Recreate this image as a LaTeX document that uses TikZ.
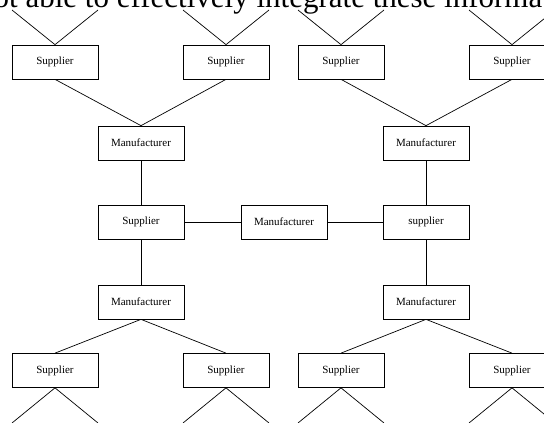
\documentclass[tikz,border=0pt]{standalone}
\usepackage{fontspec}
\setmainfont{Liberation Serif}
\begin{document}
\begin{tikzpicture}[x=1pt,y=-1pt,
  box/.style={draw, line width=0.7pt, minimum width=86pt, minimum height=34pt, inner sep=0pt, font=\fontsize{11}{12}\selectfont},
  ln/.style={line width=0.7pt}]
\useasboundingbox (0,0) rectangle (544,423);
\clip (0,0) rectangle (544,423);
\node[anchor=base west, inner sep=0pt, font=\fontsize{31}{31}\selectfont] (title) at (-22,7) {not able to effectively integrate these information};
% top suppliers
\node[box] (s1) at (55,62) {Supplier};
\node[box] (s2) at (226,62) {Supplier};
\node[box] (s3) at (341,62) {Supplier};
\node[box] (s4) at (512,62) {Supplier};
% manufacturers
\node[box] (m1) at (141,143) {Manufacturer};
\node[box] (m2) at (426,143) {Manufacturer};
% middle row
\node[box] (c1) at (141,222) {Supplier};
\node[box] (cm) at (284,222) {Manufacturer};
\node[box] (c2) at (426,222) {supplier};
% lower manufacturers
\node[box] (m3) at (141,302) {Manufacturer};
\node[box] (m4) at (426,302) {Manufacturer};
% bottom suppliers
\node[box] (b1) at (55,370.5) {Supplier};
\node[box] (b2) at (226,370.5) {Supplier};
\node[box] (b3) at (341,370.5) {Supplier};
\node[box] (b4) at (512,370.5) {Supplier};
% free ends
\foreach \n/\x in {1/55,2/226,3/341,4/512}{
  \coordinate (tl\n) at (\x-43,10);
  \coordinate (tr\n) at (\x+43,10);
  \coordinate (bl\n) at (\x-43,423);
  \coordinate (br\n) at (\x+43,423);
  \draw[ln] (tl\n) -- (s\n.north) -- (tr\n);
  \draw[ln] (bl\n) -- (b\n.south) -- (br\n);
}
\draw[ln] (s1.south) -- (m1.north) -- (s2.south);
\draw[ln] (s3.south) -- (m2.north) -- (s4.south);
\draw[ln] (m1) -- (c1);
\draw[ln] (m2) -- (c2);
\draw[ln] (c1) -- (cm);
\draw[ln] (cm) -- (c2);
\draw[ln] (c1) -- (m3);
\draw[ln] (c2) -- (m4);
\draw[ln] (m3.south) -- (b1.north);
\draw[ln] (m3.south) -- (b2.north);
\draw[ln] (m4.south) -- (b3.north);
\draw[ln] (m4.south) -- (b4.north);
\end{tikzpicture}
\end{document}
